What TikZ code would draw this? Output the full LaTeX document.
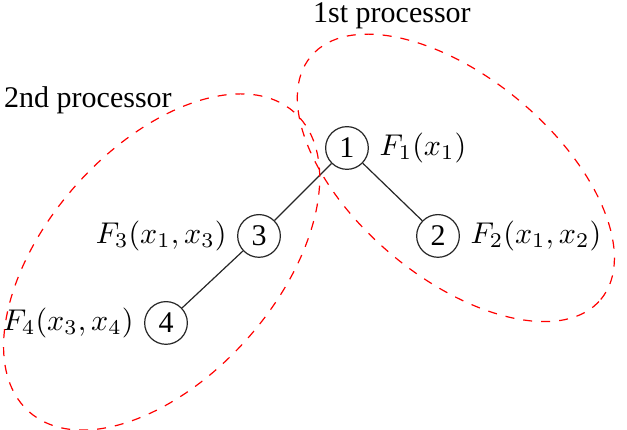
\documentclass[tikz,border=0pt]{standalone}
\usepackage{fontspec}
\setmainfont{Liberation Serif}
\usetikzlibrary{positioning}

\begin{document}
\begin{tikzpicture}[
    vertex/.style={circle, draw=black!85, minimum size=0.5cm, inner sep=0pt},
    edge/.style={draw=black!85},
    group/.style={draw=red, dashed}
]
\useasboundingbox (-4.063,-3.302) rectangle (3.279,1.733);

% Tree
\node[vertex, label={right:$F_1(x_1)$}] (n1) at (0,0) {1};
\node[vertex, label={right:$F_2(x_1,x_2)$}] (n2) at (1.066,-1.030) {2};
\node[vertex, label={left:$F_3(x_1,x_3)$}] (n3) at (-1.030,-1.030) {3};
\node[vertex, label={left:$F_4(x_3,x_4)$}] (n4) at (-2.119,-2.049) {4};

\draw[edge] (n1) -- (n2);
\draw[edge] (n1) -- (n3);
\draw[edge] (n3) -- (n4);

% Processors
\draw[group, shift={(1.275,-0.350)}, rotate=-40] (0,0) ellipse (2.215 and 1.171);
\draw[group, shift={(-2.170,-1.335)}, rotate=48.5] (0,0) ellipse (2.342 and 1.347);

\node (p1) at (0.527,1.546) {1st processor};
\node (p2) at (-3.033,0.562) {2nd processor};

\end{tikzpicture}
\end{document}
